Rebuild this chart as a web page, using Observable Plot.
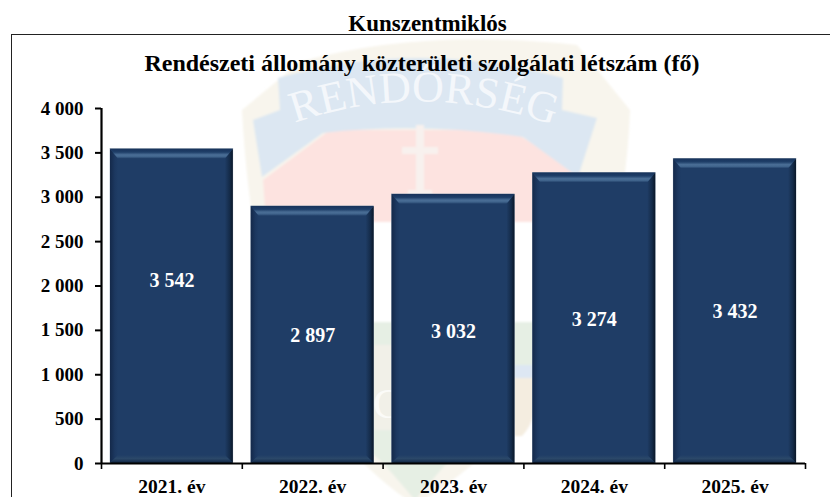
<!DOCTYPE html>
<html>
<head>
<meta charset="utf-8">
<script src="https://cdn.jsdelivr.net/npm/d3@7"></script>
<script src="https://cdn.jsdelivr.net/npm/@observablehq/plot@0.6"></script>
<style>
html,body{margin:0;padding:0;background:#fff}
#page{position:relative;width:830px;height:497px;overflow:hidden;font-family:"Liberation Serif",serif;font-weight:bold;color:#000}
#page>*{position:absolute}
#frame{left:11px;top:34px;width:819px;height:463px;border-left:1.5px solid #222;border-top:1.5px solid #222;box-sizing:border-box}
#top{left:0;top:12px;width:855px;text-align:center;font-size:23px;line-height:24px}
#title{left:0;top:50px;width:844px;text-align:center;font-size:24px;line-height:26px}
#plot svg{display:block;background:transparent}
</style>
</head>
<body>
<div id="page">
<svg id="mark" width="830" height="497" style="left:0;top:0">
  <defs>
    <linearGradient id="gTop" x1="0" y1="0" x2="0" y2="1">
      <stop offset="0" stop-color="#17325a"/><stop offset=".35" stop-color="#1f3f69"/><stop offset=".62" stop-color="#4a6e96"/><stop offset=".8" stop-color="#41658d"/><stop offset="1" stop-color="#1f3d66"/>
    </linearGradient>
    <linearGradient id="gRight" x1="0" y1="0" x2="1" y2="0">
      <stop offset="0" stop-color="#1f3d66"/><stop offset=".6" stop-color="#142b49"/><stop offset="1" stop-color="#0a1728"/>
    </linearGradient>
    <linearGradient id="gLeft" x1="0" y1="0" x2="1" y2="0">
      <stop offset="0" stop-color="#14294a"/><stop offset=".6" stop-color="#1c3860"/><stop offset="1" stop-color="#1f3d66"/>
    </linearGradient>
    <linearGradient id="gBottom" x1="0" y1="0" x2="0" y2="1">
      <stop offset="0" stop-color="#1f3d66"/><stop offset=".45" stop-color="#2b4869"/><stop offset=".75" stop-color="#1c3555"/><stop offset="1" stop-color="#10233d"/>
    </linearGradient>
    <path id="arc" d="M292 124 Q420 78 556 126"/>
    <filter id="soft"><feGaussianBlur stdDeviation="1"/></filter>
  </defs>
  <g filter="url(#soft)">
    <path d="M242 110 L300 62 Q420 28 577 45 L630 110 Q625 250 570 345 Q510 450 415 505 Q330 450 285 340 Q250 260 242 110Z" fill="#f8f5ed"/>
    <path d="M263 180 L330 130 L510 130 L590 178 L586 222 L266 222Z" fill="#fde3e0"/>
    <path d="M266 222 L586 222 Q570 280 545 322 L298 322 Q275 280 266 222Z" fill="#ffffff"/>
    <path d="M300 322 L545 322 L540 405 L445 465 L415 500 L385 465 L335 420Z" fill="#e6efe4"/>
    <path d="M374 345 h20 v85 h-20Z" fill="#f1f0e8"/>
    <path d="M514 365 h22 v35 h-22Z" fill="#dde7f3"/>
    <path d="M514 378 h20 q6 40 -12 58 h-8Z" fill="#f4ede0"/>
    <path d="M253 120 L280 110 L278 78 Q420 38 563 78 L562 110 L597 118 L578 177 L523 137 Q420 122 323 133 L262 177Z" fill="#dce7f2"/>
    <path d="M416 125 h8 v22 h14 v7 h-14 v36 h8 v6 h-24 v-6 h8 v-36 h-14 v-7 h14Z" fill="#f8f1ee"/>
  </g>
  <text font-family="Liberation Serif" font-weight="normal" font-size="44" fill="#f4f7fb"><textPath href="#arc" startOffset="50%" text-anchor="middle">RENDŐRSÉG</textPath></text>
  <text x="373" y="418" font-family="Liberation Serif" font-weight="normal" font-size="42" fill="#fbfbf8">C</text>
</svg>
<div id="frame"></div>
<div id="plot" style="left:0;top:0"></div>
<div id="top">Kunszentmiklós</div>
<div id="title">Rendészeti állomány közterületi szolgálati létszám (fő)</div>
</div>
<script>
const years = ["2021. év", "2022. év", "2023. év", "2024. év", "2025. év"];
const values = [3542, 2897, 3032, 3274, 3432];
// heights on the value axis where the chart's labels sit
const labelLevels = [2062, 1442, 1487, 1622, 1712];
const yTicks = [0, 500, 1000, 1500, 2000, 2500, 3000, 3500, 4000];

const rows = years.map((year, i) => ({i, year, value: values[i], level: labelLevels[i]}));
const spaced = d => d3.format(",")(d).replace(/,/g, "\u00a0");

const chart = Plot.plot({
  width: 830,
  height: 497,
  marginLeft: 101,
  marginRight: 25,
  marginTop: 108,
  marginBottom: 34,
  style: {background: "transparent", fontFamily: "Liberation Serif, serif", fontWeight: "bold", overflow: "visible"},
  x: {type: "linear", domain: [0, years.length]},
  y: {domain: [0, 4000]},
  marks: [
    Plot.rectY(rows, {x1: "i", x2: d => d.i + 1, y1: 0, y2: "value", insetLeft: 9, insetRight: 9, fill: "#1f3d66", stroke: "#9aa7b5", strokeWidth: 0.6, className: "bar"}),
    Plot.ruleY([0], {stroke: "#000", strokeWidth: 2.2}),
    Plot.ruleX([0], {y1: 0, y2: 4000, stroke: "#000", strokeWidth: 2.2}),
    Plot.axisY({ticks: yTicks, tickFormat: spaced, tickSize: 6, tickPadding: 12, fontSize: 19, stroke: "#000", strokeWidth: 2, color: "#000", label: null}),
    Plot.axisX({ticks: d3.range(years.length + 1), tickFormat: () => "", tickSize: 6, stroke: "#000", strokeWidth: 1.6, label: null}),
    Plot.text(rows, {x: d => d.i + 0.5, y: 0, text: "year", dy: 23, fontSize: 19.5, fill: "#000"}),
    Plot.text(rows, {x: d => d.i + 0.5, y: "level", text: d => spaced(d.value), fontSize: 20, fill: "#fff"})
  ]
});
document.getElementById("plot").append(chart);

// bevel each drawn bar from the rectangle Plot computed
const B = 10, S = 8;
d3.select(chart).selectAll(".bar rect, g.bar rect").each(function () {
  const x = +this.getAttribute("x"), y = +this.getAttribute("y"),
        w = +this.getAttribute("width"), h = +this.getAttribute("height");
  const g = d3.select(this.parentNode);
  const poly = (pts, fill) => g.append("polygon").attr("points", pts.map(p => p.join(",")).join(" ")).attr("fill", fill).attr("stroke", "none");
  const a = [x, y], b = [x + w, y], c = [x + w, y + h], d = [x, y + h];
  const a2 = [x + S, y + B], b2 = [x + w - S, y + B], c2 = [x + w - S, y + h - S], d2 = [x + S, y + h - S];
  poly([a, a2, d2, d], "url(#gLeft)");
  poly([b, b2, c2, c], "url(#gRight)");
  poly([d, d2, c2, c], "url(#gBottom)");
  poly([a, b, b2, a2], "url(#gTop)");
});
</script>
</body>
</html>
